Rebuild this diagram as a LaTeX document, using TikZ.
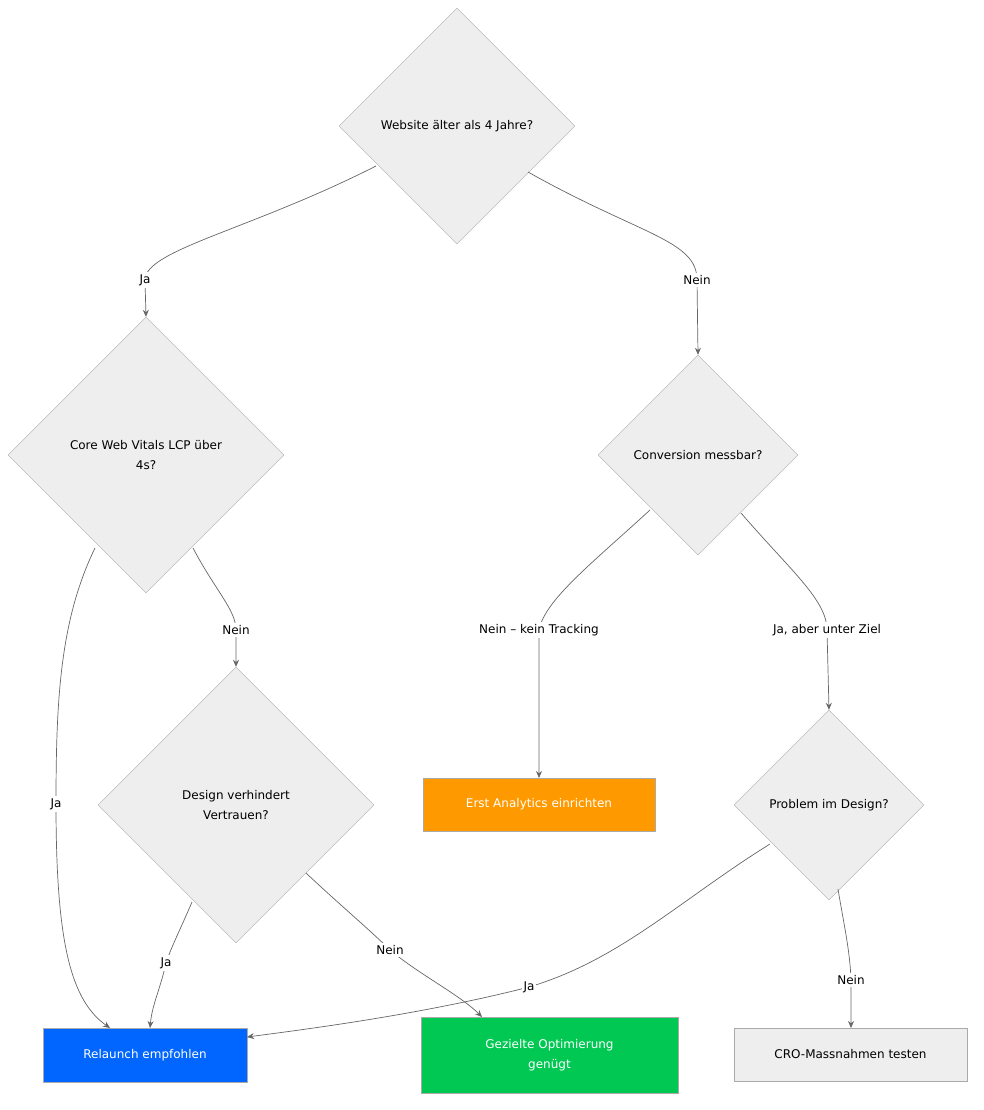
\documentclass[tikz,border=0pt]{standalone}
\usepackage{fontspec}
\setmainfont{DejaVu Sans}
\usetikzlibrary{shapes.geometric,arrows.meta}
\definecolor{dfill}{HTML}{EEEEEE}
\definecolor{dline}{HTML}{AAAAAA}
\definecolor{eline}{HTML}{666666}
\begin{document}
\begin{tikzpicture}[x=1pt,y=-1pt,
  dec/.style={diamond,aspect=1,draw=dline,fill=dfill,inner sep=0pt,font=\fontsize{12}{20}\selectfont,align=center},
  box/.style={rectangle,draw=dline,inner sep=0pt,font=\fontsize{12}{20}\selectfont,align=center},
  lbl/.style={fill=white,inner sep=2pt,font=\fontsize{12}{14}\selectfont},
  edge/.style={draw=eline,line width=0.7pt,-{Stealth[length=7pt,width=6pt]}}]
\useasboundingbox (0,0) rectangle (983,1110);
\node[dec,minimum width=236,minimum height=236] (d1) at (457,126) {Website älter als 4 Jahre?};
\node[dec,minimum width=276,minimum height=276] (d2) at (146,455) {Core Web Vitals LCP über\\4s?};
\node[dec,minimum width=200,minimum height=200] (d3) at (698,455) {Conversion messbar?};
\node[dec,minimum width=276,minimum height=276] (d4) at (236,805) {Design verhindert\\Vertrauen?};
\node[dec,minimum width=190,minimum height=190] (d5) at (829,805) {Problem im Design?};
\node[box,fill={rgb,255:red,0;green,102;blue,255},text=white,minimum width=204,minimum height=54] (r) at (145,1055) {Relaunch empfohlen};
\node[box,fill={rgb,255:red,0;green,200;blue,83},text=white,minimum width=257,minimum height=76] (g) at (549.5,1055) {Gezielte Optimierung\\genügt};
\node[box,fill={rgb,255:red,255;green,153;blue,0},text=white,minimum width=232,minimum height=53] (a) at (539,804.5) {Erst Analytics einrichten};
\node[box,fill=dfill,minimum width=233,minimum height=53] (c) at (850.5,1054.5) {CRO-Massnahmen testen};
% label anchors
\coordinate (l1) at (145,280); \coordinate (l2) at (697,280);
\coordinate (l3) at (56,804); \coordinate (l4) at (236,630);
\coordinate (l5) at (539,630); \coordinate (l6) at (827,630);
\coordinate (l7) at (166,963); \coordinate (l8) at (390,950);
\coordinate (l9) at (529,987); \coordinate (l10) at (851,980);
\coordinate (s1) at (376,166); \coordinate (s2) at (528,172);
\coordinate (s3) at (95,548); \coordinate (s4) at (193,548);
\coordinate (s5) at (650,510); \coordinate (s6) at (741,513);
\coordinate (s7) at (192,902); \coordinate (s8) at (306,873);
\coordinate (s9) at (770,844); \coordinate (s10) at (838,889);
\coordinate (e3) at (110,1028); \coordinate (e7) at (150,1028);
\coordinate (e8) at (482,1017); \coordinate (e9) at (247,1037);
\coordinate (e10) at (851,1028); \coordinate (e5) at (539,778);
\draw[edge] (s1) .. controls (250,230) and (145,250) .. (l1) -- (d2.north);
\draw[edge] (s2) .. controls (640,235) and (697,240) .. (l2) -- (d3.north);
\draw[edge] (s3) .. controls (60,620) and (56,700) .. (l3) .. controls (56,940) and (70,1000) .. (e3);
\draw[edge] (s4) .. controls (215,590) and (236,610) .. (l4) -- (d4.north);
\draw[edge] (s5) .. controls (590,565) and (545,600) .. (l5) .. controls (539,680) and (539,740) .. (e5);
\draw[edge] (s6) .. controls (790,570) and (827,600) .. (l6) -- (d5.north);
\draw[edge] (s7) .. controls (180,930) and (170,950) .. (l7) .. controls (160,990) and (152,1005) .. (e7);
\draw[edge] (s8) .. controls (340,905) and (370,930) .. (l8) .. controls (420,975) and (460,995) .. (e8);
\draw[edge] (s9) .. controls (680,900) and (620,960) .. (l9) .. controls (420,1015) and (300,1030) .. (e9);
\draw[edge] (s10) .. controls (843,920) and (850,950) .. (l10) -- (e10);
\node[lbl] (t1) at (l1) {Ja};
\node[lbl] (t2) at (l2) {Nein};
\node[lbl] (t3) at (l3) {Ja};
\node[lbl] (t4) at (l4) {Nein};
\node[lbl] (t5) at (l5) {Nein – kein Tracking};
\node[lbl] (t6) at (l6) {Ja, aber unter Ziel};
\node[lbl] (t7) at (l7) {Ja};
\node[lbl] (t8) at (l8) {Nein};
\node[lbl] (t9) at (l9) {Ja};
\node[lbl] (t10) at (l10) {Nein};
\end{tikzpicture}
\end{document}
